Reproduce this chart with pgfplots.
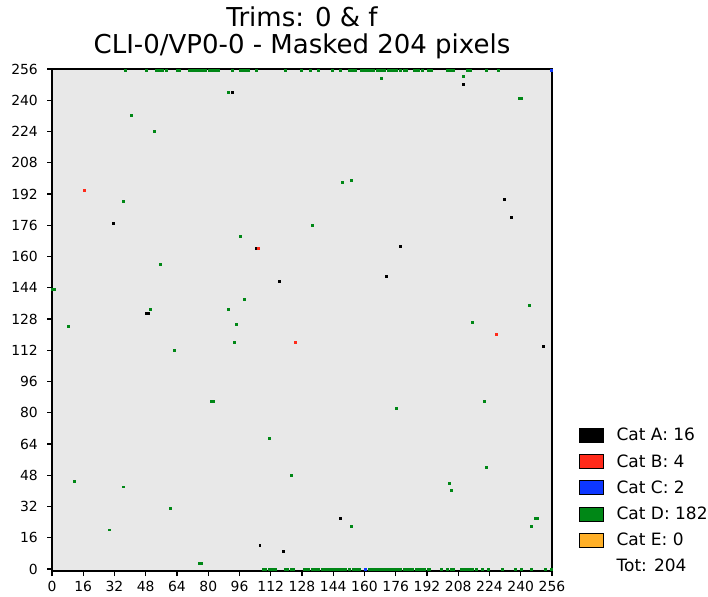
\documentclass[border=0pt]{standalone}
\usepackage{fontspec}
\setmainfont{DejaVu Sans}
\usepackage{pgfplots}
\pgfplotsset{compat=1.18}

\definecolor{catA}{RGB}{0,0,0}
\definecolor{catB}{RGB}{255,42,26}
\definecolor{catC}{RGB}{13,55,255}
\definecolor{catD}{RGB}{0,135,22}
\definecolor{catE}{RGB}{255,176,40}
\definecolor{bgmap}{RGB}{232,232,232}

\pgfplotsset{
  pix/.style={only marks, mark=square*, mark size=0.98pt, forget plot,
    mark options={draw=#1, fill=#1, line width=0pt}},
}

\begin{document}
\begin{tikzpicture}
\begin{axis}[
  name=map,
  at={(0,0)}, anchor=south west,
  scale only axis, width=500pt, height=502pt,
  xmin=0, xmax=256, ymin=-1, ymax=256,
  xtick={0,16,...,256}, ytick={0,16,...,256},
  xtick pos=bottom, ytick pos=left,
  tick align=outside, major tick length=5pt,
  every tick/.style={black, line width=1.1pt},
  axis line style={line width=1.1pt},
  axis background/.style={fill=bgmap},
  /pgf/number format/assume math mode=true,
  tick label style={font=\fontsize{13.9}{16}\selectfont, inner sep=0pt},
  xticklabel style={anchor=north, yshift=-5pt},
  yticklabel style={anchor=east, xshift=-9pt},
  legend style={at={(1.054,0.285)}, anchor=north west, draw=none, fill=none,
    font=\fontsize{17}{20}\selectfont, inner sep=0pt, row sep=11.75pt,
    column sep=13pt, nodes={inner sep=0pt}},
  legend cell align=left,
  legend image code/.code={\fill[#1] (0pt,-7pt) rectangle (24pt,7pt);},
]
% Cat D (green)
\addplot[pix=catD] coordinates {
(37.5,255)(48.5,255)(53.5,255)(54.5,255)(55.5,255)(56.5,255)(58.5,255)(64.5,255)(65.5,255)
(70.5,255)(71.5,255)(72.5,255)(73.5,255)(74.5,255)(75.5,255)(76.5,255)(77.5,255)(78.5,255)
(80.5,255)(81.5,255)(82.5,255)(83.5,255)(84.5,255)(85.5,255)(92.5,255)
(96.5,255)(97.5,255)(98.5,255)(99.5,255)(100.5,255)(104.5,255)(119.5,255)(127.5,255)
(132.5,255)(136.5,255)(143.5,255)(147.5,255)
(152.5,255)(153.5,255)(154.5,255)(155.5,255)
(158.5,255)(159.5,255)(160.5,255)(161.5,255)(162.5,255)(163.5,255)(164.5,255)
(166.5,255)(167.5,255)(168.5,255)(169.5,255)(170.5,255)
(172.5,255)(173.5,255)(174.5,255)(175.5,255)(176.5,255)(178.5,255)(180.5,255)(181.5,255)
(185.5,255)(186.5,255)(187.5,255)(189.5,255)(192.5,255)(193.5,255)(194.5,255)
(202.5,255)(203.5,255)(204.5,255)(205.5,255)(212.5,255)(213.5,255)(214.5,255)(222.5,255)(228.5,255)
(108.5,0)(109.5,0)(111.5,0)(112.5,0)(113.5,0)(114.5,0)(119.5,0)(120.5,0)(122.5,0)(123.5,0)
(129.5,0)(130.5,0)(131.5,0)(133.5,0)(134.5,0)(135.5,0)(136.5,0)
(138.5,0)(139.5,0)(140.5,0)(141.5,0)(142.5,0)(143.5,0)(144.5,0)(145.5,0)(146.5,0)
(147.5,0)(148.5,0)(149.5,0)(150.5,0)
(152.5,0)(154.5,0)(155.5,0)(156.5,0)(157.5,0)
(162.5,0)(163.5,0)(164.5,0)(165.5,0)(166.5,0)(167.5,0)(168.5,0)(169.5,0)
(171.5,0)(172.5,0)(173.5,0)(174.5,0)(175.5,0)(176.5,0)(177.5,0)(178.5,0)
(180.5,0)(181.5,0)(182.5,0)(183.5,0)(184.5,0)
(186.5,0)(187.5,0)(188.5,0)(189.5,0)(190.5,0)
(192.5,0)(193.5,0)(199.5,0)(202.5,0)(204.5,0)(205.5,0)
(209.5,0)(210.5,0)(211.5,0)(212.5,0)(213.5,0)(214.5,0)(215.5,0)
(217.5,0)(220.5,0)(223.5,0)(230.5,0)(237.5,0)(240.5,0)(245.5,0)(252.5,0)(255.5,0)
(75.5,3)(76.5,3)(40.5,232)(52.5,224)(36.5,188)(96.5,170)(55.5,156)(0.5,143)(1.5,143)
(50.5,133)(8.5,124)(98.5,138)(90.5,133)(94.5,125)(93.5,116)(62.5,112)(81.5,86)(82.5,86)
(111.5,67)(122.5,48)(11.5,45)(36.5,42)(60.5,31)(29.5,20)(153.5,22)(133.5,176)(148.5,198)
(153.5,199)(168.5,251)(210.5,252)(239.5,241)(240.5,241)(176.5,82)(215.5,126)(221.5,86)
(244.5,135)(222.5,52)(203.5,44)(204.5,40)(245.5,22)(247.5,26)(248.5,26)(90.5,244)
};
% Cat A (black)
\addplot[pix=catA] coordinates {
(92.5,244)(210.5,248)(231.5,189)(235.5,180)(31.5,177)(104.5,164)(178.5,165)(171.5,150)
(116.5,147)(48.5,131)(49.5,131)(251.5,114)(118.5,9)(106.5,12)(147.5,26)
};
% Cat B (red)
\addplot[pix=catB] coordinates {(16.5,194)(124.5,116)(227.5,120)(105.5,164)};
% Cat C (blue)
\addplot[pix=catC] coordinates {(255.5,255)(160.5,0)};

\addlegendimage{fill=catA}
\addlegendentry{Cat A: 16}
\addlegendimage{fill=catB}
\addlegendentry{Cat B: 4}
\addlegendimage{fill=catC}
\addlegendentry{Cat C: 2}
\addlegendimage{fill=catD}
\addlegendentry{Cat D: 182}
\addlegendimage{fill=catE}
\addlegendentry{Cat E: 0}
\addlegendimage{empty legend}
\addlegendentry{Tot: 204}
\end{axis}
\node[anchor=base, font=\fontsize{26}{30}\selectfont] at (250pt,544.3pt) {Trims: 0 \& f};
\node[anchor=base, font=\fontsize{26}{30}\selectfont] at (250pt,517.7pt) {CLI-0/VP0-0 - Masked 204 pixels};
\pgfresetboundingbox
\path[use as bounding box] (-52pt,-25pt) rectangle (656pt,571pt);
\end{tikzpicture}
\end{document}
